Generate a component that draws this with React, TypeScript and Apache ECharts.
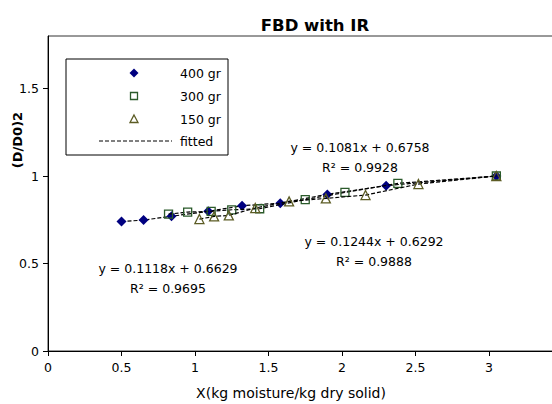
import React, { useEffect, useRef } from "react";
import * as echarts from "echarts";

// ---- data ----
const x400 = [0.5, 0.65, 0.84, 1.09, 1.32, 1.58, 1.9, 2.3, 3.05];
const y400 = [0.74, 0.748, 0.77, 0.798, 0.83, 0.845, 0.895, 0.945, 1.0];
const x300 = [0.82, 0.95, 1.11, 1.25, 1.44, 1.75, 2.02, 2.38, 3.05];
const y300 = [0.782, 0.794, 0.798, 0.807, 0.813, 0.865, 0.906, 0.958, 1.0];
const x150 = [1.03, 1.13, 1.23, 1.41, 1.64, 1.89, 2.16, 2.52, 3.05];
const y150 = [0.754, 0.769, 0.775, 0.817, 0.855, 0.872, 0.891, 0.954, 1.0];
const seriesNames = ["400 gr", "300 gr", "150 gr"];
const fittedName = "fitted";
const eq300 = ["y = 0.1081x + 0.6758", "R² = 0.9928"];
const eq150 = ["y = 0.1244x + 0.6292", "R² = 0.9888"];
const eq400 = ["y = 0.1118x + 0.6629", "R² = 0.9695"];
const xTicks = [0, 0.5, 1, 1.5, 2, 2.5, 3];
const yTicks = [0, 0.5, 1, 1.5];
const titleText = "FBD with IR";
const xName = "X(kg moisture/kg dry solid)";
const yName = "(D/D0)2";

const FONT = "'DejaVu Sans', Verdana, sans-serif";
const C400 = "#000080";
const C300 = "#2a5a2a";
const C150 = "#5c5c24";

const pairs = (xs: number[], ys: number[]) => xs.map((x, i) => [x, ys[i]]);

export default function App() {
  const ref = useRef<HTMLDivElement>(null);
  useEffect(() => {
    if (!ref.current) return;
    const chart = echarts.init(ref.current, undefined, { renderer: "svg" });
    const lineStyle = { color: "#000", width: 1.2, type: [4, 2] as any };
    const eqText = (lines: string[], cx: number, y: number) =>
      lines.map((t, i) => ({
        type: "text",
        x: cx,
        y: y + i * 20,
        style: {
          text: t,
          fill: "#000",
          font: `12.5px ${FONT}`,
          textAlign: "center",
          textVerticalAlign: "middle",
        },
      }));
    chart.setOption({
      animation: false,
      backgroundColor: "#fff",
      title: {
        text: titleText,
        left: 310,
        top: 12,
        textAlign: "center",
        textStyle: { fontFamily: FONT, fontWeight: "bold", fontSize: 16.5, color: "#000" },
      },
      grid: {
        left: 48,
        top: 36,
        width: 514.5,
        height: 315,
        outerBoundsMode: "none",
        containLabel: false,
        show: true,
        borderColor: "#333",
        borderWidth: 1,
      },
      xAxis: {
        type: "value",
        min: 0,
        max: 3.5,
        interval: 0.5,
        splitLine: { show: false },
        axisLine: { lineStyle: { color: "#000", width: 1 } },
        axisTick: { length: 5, lineStyle: { color: "#000" }, customValues: xTicks },
        axisLabel: {
          customValues: xTicks,
          fontFamily: FONT,
          fontSize: 12.5,
          color: "#000",
          margin: 10,
        },
      },
      yAxis: {
        type: "value",
        min: 0,
        max: 1.8,
        interval: 0.5,
        splitLine: { show: false },
        axisLine: { lineStyle: { color: "#000", width: 1 } },
        axisTick: { length: 5, lineStyle: { color: "#000" }, customValues: yTicks },
        axisLabel: {
          customValues: yTicks,
          fontFamily: FONT,
          fontSize: 12.5,
          color: "#000",
          margin: 9,
        },
      },
      series: [
        {
          name: seriesNames[0],
          type: "line",
          data: pairs(x400, y400),
          symbol: "diamond",
          symbolSize: 10,
          itemStyle: { color: C400 },
          lineStyle,
          z: 2,
        },
        {
          name: seriesNames[1],
          type: "line",
          data: pairs(x300, y300),
          symbol: "rect",
          symbolSize: 8,
          itemStyle: { color: "none", borderColor: C300, borderWidth: 1.3 },
          lineStyle,
          z: 3,
        },
        {
          name: seriesNames[2],
          type: "line",
          data: pairs(x150, y150),
          symbol: "triangle",
          symbolSize: 9,
          itemStyle: { color: "none", borderColor: C150, borderWidth: 1.3 },
          lineStyle,
          z: 4,
        },
      ],
      graphic: [
        {
          type: "text",
          x: 17,
          y: 140,
          rotation: Math.PI / 2,
          style: {
            text: yName,
            fill: "#000",
            font: `bold 13px ${FONT}`,
            textAlign: "center",
            textVerticalAlign: "middle",
          },
        },
        {
          type: "text",
          x: 291,
          y: 393,
          style: {
            text: xName,
            fill: "#000",
            font: `14px ${FONT}`,
            textAlign: "center",
            textVerticalAlign: "middle",
          },
        },
        ...eqText(eq300, 360, 147),
        ...eqText(eq150, 374, 241),
        ...eqText(eq400, 168, 268),
        {
          type: "rect",
          shape: { x: 66, y: 59, width: 162, height: 96 },
          style: { fill: "#fff", stroke: "#000", lineWidth: 1 },
          z: 10,
        },
        {
          type: "polygon",
          shape: { points: [[134, 68.5], [138.5, 73], [134, 77.5], [129.5, 73]] },
          style: { fill: C400 },
          z: 11,
        },
        {
          type: "rect",
          shape: { x: 130.5, y: 92.5, width: 7, height: 7 },
          style: { fill: "none", stroke: C300, lineWidth: 1.3 },
          z: 11,
        },
        {
          type: "polygon",
          shape: { points: [[134, 115], [138, 122.5], [130, 122.5]] },
          style: { fill: "none", stroke: C150, lineWidth: 1.3 },
          z: 11,
        },
        {
          type: "line",
          shape: { x1: 99, y1: 141, x2: 172, y2: 141 },
          style: { stroke: "#000", lineWidth: 1, lineDash: [4, 2] },
          z: 11,
        },
        ...[seriesNames[0], seriesNames[1], seriesNames[2], fittedName].map((t, i) => ({
          type: "text",
          x: 180,
          y: [73, 96, 119, 141][i],
          z: 11,
          style: {
            text: t,
            fill: "#000",
            font: `12.5px ${FONT}`,
            textAlign: "left",
            textVerticalAlign: "middle",
          },
        })),
      ],
    });
    return () => chart.dispose();
  }, []);
  return (
    <div
      ref={ref}
      style={{ position: "fixed", left: 0, top: 0, width: 552, height: 404 }}
    />
  );
}
